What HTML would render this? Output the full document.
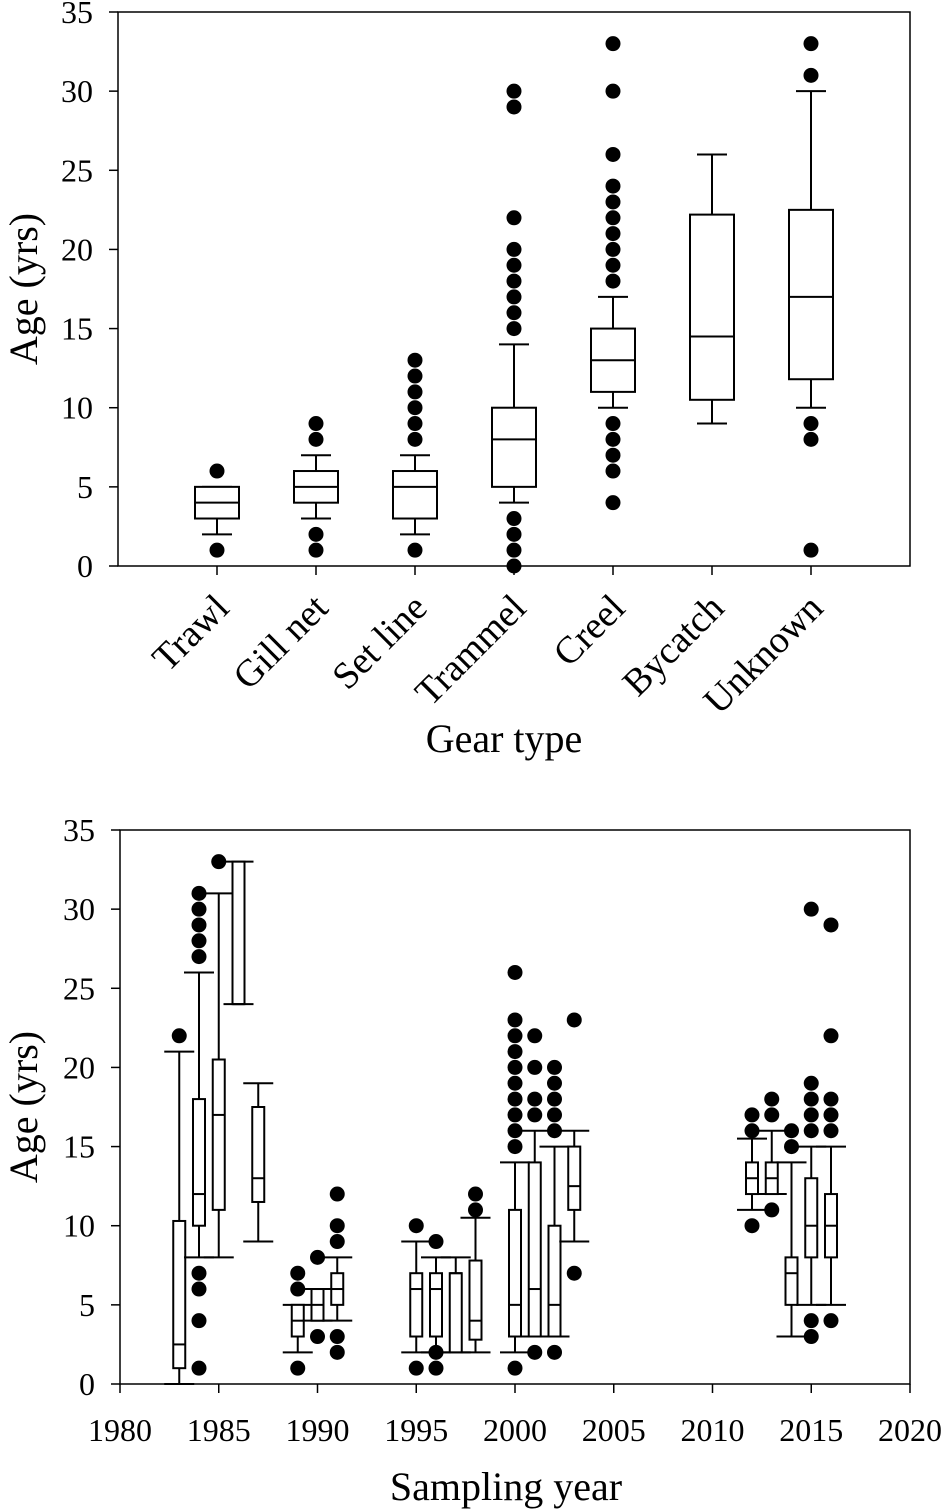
<!DOCTYPE html>
<html><head><meta charset="utf-8"><style>
html,body{margin:0;padding:0;background:#fff}
svg{display:block;font-family:"Liberation Serif",serif}
</style></head><body>
<svg id="c" width="945" height="1509" viewBox="0 0 945 1509" xmlns="http://www.w3.org/2000/svg"></svg>
<script>
// ---- Top chart data ----
const gearCats = ["Trawl","Gill net","Set line","Trammel","Creel","Bycatch","Unknown"];
const gearQ1 = [3,4,3,5,11,10.5,11.8];
const gearMed = [4,5,5,8,13,14.5,17];
const gearQ3 = [5,6,6,10,15,22.2,22.5];
const gearLo = [2,3,2,4,10,9,10];
const gearHi = [5,7,7,14,17,26,30];
const gearOut = [[6,1],[8,9,2,1],[8,9,10,11,12,13,1],[15,16,17,18,19,20,22,29,30,3,2,1,0],[18,19,20,21,22,23,24,26,30,33,9,8,7,6,4],[],[31,33,9,8,1]];
const ageTicks = [0,5,10,15,20,25,30,35];
// ---- Bottom chart data ----
const years = [1983,1984,1985,1986,1987,1989,1990,1991,1995,1996,1997,1998,2000,2001,2002,2003,2012,2013,2014,2015,2016];
const yrQ1 = [1,10,11,24,11.5,3,4,5,3,3,2,2.8,3,3,3,11,12,12,5,8,8];
const yrMed = [2.5,12,17,24,13,4,5,6,6,6,7,4,5,6,5,12.5,13,13,7,10,10];
const yrQ3 = [10.3,18,20.5,33,17.5,5,6,7,7,7,7,7.8,11,14,10,15,14,14,8,13,12];
const yrLo = [0,8,8,24,9,2,4,4,2,2,2,2,2,3,3,9,11,12,3,5,5];
const yrHi = [21,26,31,33,19,5,6,8,9,8,8,10.5,14,16,15,16,15.5,16,14,15,15];
const yrOut = [[22],[27,28,29,30,31,1,4,6,7],[33],[],[],[6,7,1],[8,3],[9,10,12,3,2],[10,1],[9,2,1],[],[11,12],[15,16,17,18,19,20,21,22,23,26,1],[17,18,20,22,2],[16,17,18,19,20,2],[23,7],[16,17,10],[17,18,11],[15,16],[16,17,18,19,30,4,3],[16,17,18,22,29,4]];
const yearTicks = [1980,1985,1990,1995,2000,2005,2010,2015,2020];

const svg = document.getElementById('c');
const NS = 'http://www.w3.org/2000/svg';
function mk(tag, attrs, parent){const e=document.createElementNS(NS,tag);for(const k in attrs)e.setAttribute(k,attrs[k]);(parent||svg).appendChild(e);return e;}

function drawBox(g, cx, bw, cw, yf, q1, md, q3, lo, hi, outs){
  let l = mk('line',{x1:cx,x2:cx,y1:yf(q3),y2:yf(hi),stroke:'#000','stroke-width':2},g);
  
  
  l = mk('line',{x1:cx,x2:cx,y1:yf(q1),y2:yf(lo),stroke:'#000','stroke-width':2},g);
  
  
  l = mk('line',{x1:cx-cw/2,x2:cx+cw/2,y1:yf(hi),y2:yf(hi),stroke:'#000','stroke-width':2},g);
  
  
  l = mk('line',{x1:cx-cw/2,x2:cx+cw/2,y1:yf(lo),y2:yf(lo),stroke:'#000','stroke-width':2},g);
  
  
  const r = mk('rect',{x:cx-bw/2,y:yf(q3),width:bw,height:Math.max(0,yf(q1)-yf(q3)),fill:'#fff',stroke:'#000','stroke-width':2},g);
  
  
  l = mk('line',{x1:cx-bw/2,x2:cx+bw/2,y1:yf(md),y2:yf(md),stroke:'#000','stroke-width':2},g);
  
  
  outs.forEach(v=>{
    const c = mk('circle',{cx:cx,cy:yf(v),r:7.5,fill:'#000'},g);
    
    
  });
}
function yAxis(g, x0, yf, titleY){
  ageTicks.forEach(t=>{
    mk('line',{x1:x0-9,x2:x0,y1:yf(t),y2:yf(t),stroke:'#000','stroke-width':1.5},g);
    const tx = mk('text',{x:x0-25,y:yf(t)+11,'text-anchor':'end','font-size':32},g);
    tx.textContent=t;
    
    
  });
  const tt = mk('text',{x:0,y:0,'text-anchor':'middle','font-size':40,transform:`translate(37,${titleY}) rotate(-90)`},g);
  tt.textContent='Age (yrs)';
  
  
}

// ---- Top chart ----
(function(){
  const L=118,R=910,T=12,B=566;
  const yf=v=>B-(v/35)*(B-T);
  const xf=i=>L+(i+1)*(R-L)/8;
  const g=mk('g',{});
  
  
  const f=mk('rect',{x:L,y:T,width:R-L,height:B-T,fill:'none',stroke:'#000','stroke-width':1.5},g);
  
  
  yAxis(g,L,yf,289);
  gearCats.forEach((c,i)=>{
    const x=xf(i);
    mk('line',{x1:x,x2:x,y1:B,y2:B+9,stroke:'#000','stroke-width':1.5},g);
    const t=mk('text',{x:0,y:0,'text-anchor':'end','font-size':38,transform:`translate(${x+14},${B+44}) rotate(-45)`},g);
    t.textContent=c;
    
    
    drawBox(g,x,44,30,yf,gearQ1[i],gearMed[i],gearQ3[i],gearLo[i],gearHi[i],gearOut[i]);
  });
  const xt=mk('text',{x:504,y:752,'text-anchor':'middle','font-size':40},g);
  xt.textContent='Gear type';
  
  
})();

// ---- Bottom chart ----
(function(){
  const L=120,R=910,T=830,B=1384;
  const yf=v=>B-(v/35)*(B-T);
  const xf=y=>L+(y-1980)/40*(R-L);
  const g=mk('g',{});
  
  
  const f=mk('rect',{x:L,y:T,width:R-L,height:B-T,fill:'none',stroke:'#000','stroke-width':1.5},g);
  
  
  yAxis(g,L,yf,1107);
  yearTicks.forEach(t=>{
    const x=xf(t);
    mk('line',{x1:x,x2:x,y1:B,y2:B+9,stroke:'#000','stroke-width':1.5},g);
    const tx=mk('text',{x:x,y:1441,'text-anchor':'middle','font-size':32},g);
    tx.textContent=t;
    
    
  });
  years.forEach((y,i)=>{
    drawBox(g,xf(y),12,30,yf,yrQ1[i],yrMed[i],yrQ3[i],yrLo[i],yrHi[i],yrOut[i]);
  });
  const xt=mk('text',{x:506,y:1500,'text-anchor':'middle','font-size':40},g);
  xt.textContent='Sampling year';
  
  
})();
</script>
</body></html>
